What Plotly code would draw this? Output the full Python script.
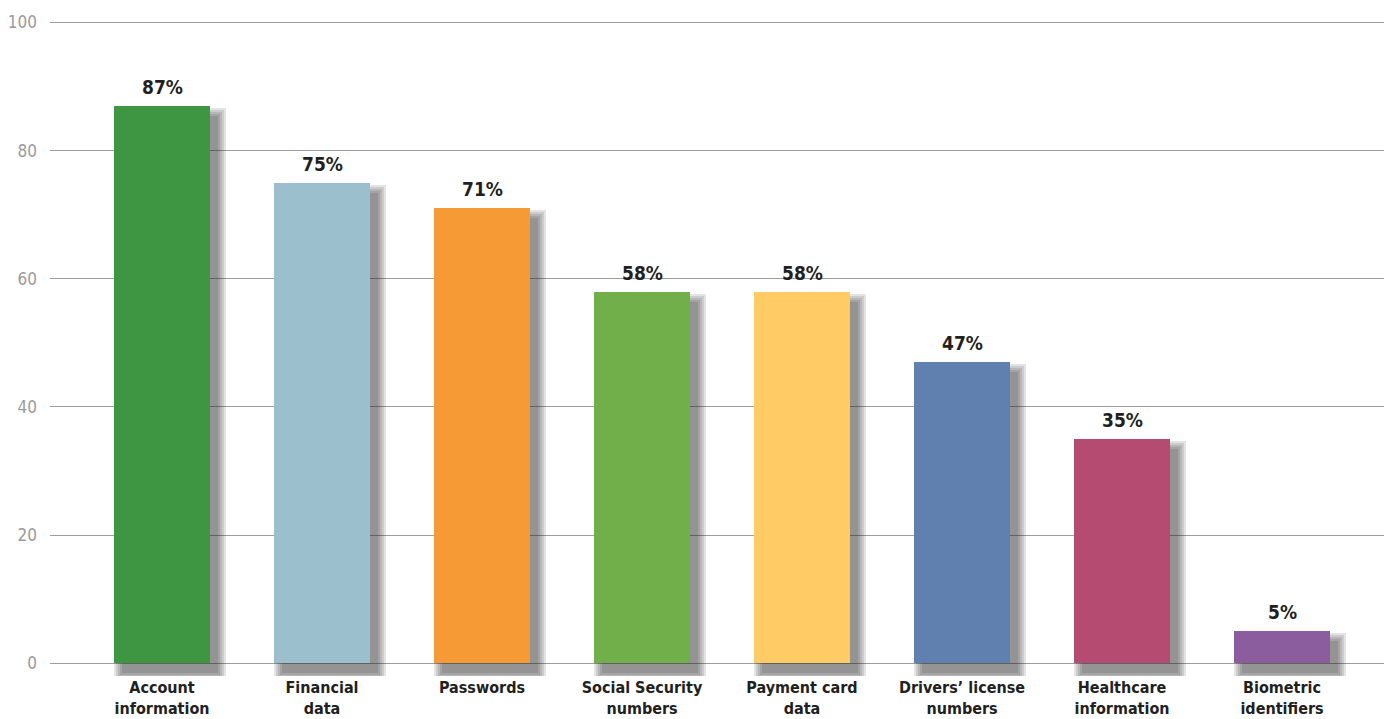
import plotly.graph_objects as go

# Share of breaches exposing each data type (%)
categories = [
    "Account<br>information",
    "Financial<br>data",
    "Passwords",
    "Social Security<br>numbers",
    "Payment card<br>data",
    "Drivers’ license<br>numbers",
    "Healthcare<br>information",
    "Biometric<br>identifiers",
]
values = [87, 75, 71, 58, 58, 47, 35, 5]
colors = ["#3e9642", "#9bbfcd", "#f69a35", "#70af4a", "#fecb64", "#6081b0", "#b64b71", "#8c5d9e"]
y_ticks = [0, 20, 40, 60, 80, 100]

FONT = "DejaVu Sans Condensed, Liberation Sans Narrow, Arial Narrow, sans-serif"

x_idx = list(range(len(values)))
BAR_W = 0.6
PX_X = 160.0      # pixels per category
PX_Y = 6.41       # pixels per y unit

fig = go.Figure()

# soft drop shadow: stacked translucent bars, offset down/right and spread out
dx, dy = 8, 10
for e in range(0, 10, 2):
    w = BAR_W + 2 * e / PX_X
    fig.add_trace(go.Bar(
        x=x_idx,
        y=[v + 2 * e / PX_Y for v in values],
        base=-(dy + e) / PX_Y,
        width=w,
        offset=-w / 2 + dx / PX_X,
        marker=dict(color="rgba(30,30,30,0.12)", line=dict(width=0)),
        hoverinfo="skip",
        showlegend=False,
    ))

fig.add_trace(go.Bar(
    x=x_idx,
    y=values,
    width=BAR_W,
    marker=dict(color=colors, line=dict(width=0)),
    showlegend=False,
))

for i, v in enumerate(values):
    fig.add_annotation(
        x=i, y=v, text=f"<b>{v}%</b>", showarrow=False,
        yanchor="bottom", yshift=6,
        font=dict(family=FONT, size=19, color="#231f20"),
    )

fig.update_layout(
    width=1384, height=719,
    margin=dict(l=50, r=0, t=16, b=43),
    paper_bgcolor="white", plot_bgcolor="white",
    barmode="overlay", bargap=0,
    xaxis=dict(
        range=[-0.7, 7.6375],
        tickmode="array", tickvals=x_idx,
        ticktext=[f"<b>{c}</b>" for c in categories],
        tickfont=dict(family=FONT, size=16, color="#231f20"),
        showgrid=False, zeroline=False, showline=False, ticks="",
    ),
    yaxis=dict(
        range=[-2, 101],
        tickmode="array", tickvals=y_ticks,
        tickfont=dict(family=FONT, size=17, color="#9a9a9a"),
        showgrid=True, gridcolor="#9c9c9c", gridwidth=1,
        zeroline=False, showline=False, ticks="",
        ticklabelstandoff=12,
    ),
)

fig.write_html("out.html")
